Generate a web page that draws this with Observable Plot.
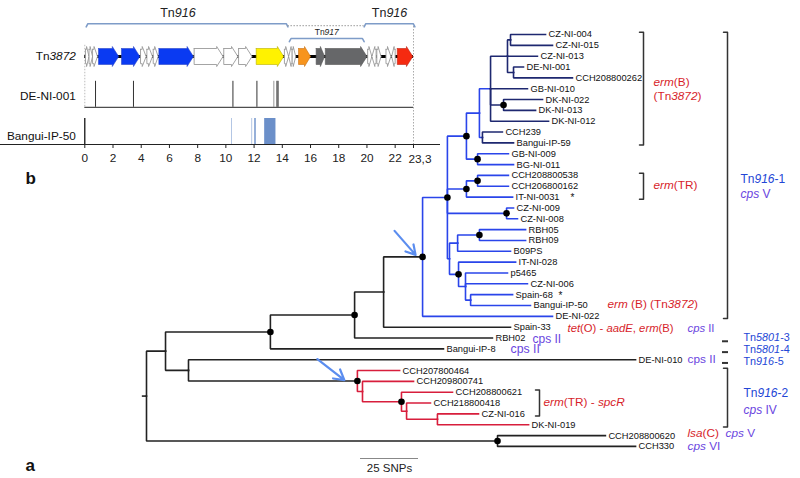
<!DOCTYPE html>
<html><head><meta charset="utf-8">
<script src="https://cdn.jsdelivr.net/npm/d3@7"></script>
<script src="https://cdn.jsdelivr.net/npm/@observablehq/plot@0.6"></script>
<style>
body{margin:0;background:#fff;}
#wrap{position:relative;width:800px;height:478px;overflow:hidden;background:#fff;font-family:"Liberation Sans",Arial,Helvetica,sans-serif;}
#wrap svg{position:absolute;left:0;top:0;}
</style></head><body><div id="wrap"></div>
<script>
// ---------------- DATA: inset (Tn3872 element, kb) ----------------
const kbTicks = [0,2,4,6,8,10,12,14,16,18,20,22,23.3];
const kbTickLabels = ["0","2","4","6","8","10","12","14","16","18","20","22","23,3"];
const insetRows = ["Tn_3872_","DE-NI-001","Bangui-IP-50"];
const geneStart = [0.05,0.3,0.55,0.97,2.6,3.95,4.4,4.85,5.25,7.75,9.85,10.9,12.15,14.15,14.45,14.7,15.15,16.4,17.05,20.05,20.35,20.7,21.35,21.75,22.15];
const geneEnd   = [0.3,0.55,0.9,2.4,3.9,4.35,4.8,5.2,7.7,9.8,10.85,11.85,14.1,14.45,14.7,14.95,16.0,17.0,20.0,20.35,20.65,21.0,21.7,22.0,23.25];
const geneDir   = [1,1,1,1,1,1,1,1,1,1,1,1,1,1,-1,1,1,1,1,1,-1,1,1,-1,1];
const geneType  = ["s","s","s","blue","blue","s","s","s","blue","w","w","w","yellow","s","s","s","orange","gray","gray","s","s","s","s","s","red"];
const deSnps = [0.76,3.45,10.5,12.2,13.4,13.62,13.7];
const banguiStart = [10.4,11.83,12.05,12.75];
const banguiEnd   = [10.47,11.9,12.15,13.55];
const tnLabels = ["Tn_916_","Tn_917_","Tn_916_"];
const tnStart = [0.1,14.5,19.8];
const tnEnd   = [14.4,19.8,23.4];
const tnLevel = [0,1,0];

// ---------------- DATA: tree (branch depth in SNPs) ----------------
const leafNames = ["CZ-NI-004","CZ-NI-015","CZ-NI-013","DE-NI-001","CCH208800262","GB-NI-010","DK-NI-022","DK-NI-013","DK-NI-012","CCH239","Bangui-IP-59","GB-NI-009","BG-NI-011","CCH208800538","CCH206800162","IT-NI-0031","CZ-NI-009","CZ-NI-008","RBH05","RBH09","B09PS","IT-NI-028","p5465","CZ-NI-006","Spain-68","Bangui-IP-50","DE-NI-022","Spain-33","RBH02","Bangui-IP-8","DE-NI-010","CCH207800464","CCH209800741","CCH208800621","CCH218800418","CZ-NI-016","DK-NI-019","CCH208800620","CCH330"];
const leafParent = ["C2","C2","C1","C3","C3","C0","D1","D1","C0","U2","U2","G1","G1","I2","I2","I1","Z1","Z1","RB","RB","L1","L2","L3","L3","L5","L5","B0","N3","N2","N1","A2","R0","R1","R3","R4","R5","R5","Bn","Bn"];
const leafDepth = [172.0,175.0,168.5,162.5,183.6,164.2,170.7,167.7,173.3,153.4,158.2,156.0,158.2,156.0,156.0,157.8,158.2,159.9,163.4,163.4,156.9,159.1,155.6,164.2,157.8,165.5,175.0,156.9,149.1,128.0,210.8,109.1,115.1,131.9,122.4,143.1,164.7,197.8,210.8];
const nodeIds    = ["root","A","Bn","N1","A2","N2","N3","B0","B1","U","UU","C0","C1","C2","C3","D1","U2","G1","I1","I2","Z1","L0","L1","RB","L2","L3","L5","R0","R1","R3","R4","R5"];
const nodeParent = [null,"root","root","A","A","N1","N2","N3","B0","B1","U","UU","C0","C1","C1","C0","UU","U","B1","I1","B1","B1","L0","L1","L0","L2","L3","A2","R0","R1","R3","R4"];
const nodeDepth  = [0,8.2,151.3,53.4,18.1,89.7,102.2,119.0,129.7,137.9,143.5,148.3,155.6,156.9,158.2,153.9,144.8,142.7,137.9,142.7,155.2,130.6,134.1,143.5,134.5,137.5,139.7,90.9,93.1,109.9,112.1,125.4];
const dotNodes = ["Bn","N1","N2","B0","B1","U","D1","G1","I1","I2","Z1","RB","L2","R0","R3"];
const starLeaves = ["IT-NI-0031","Spain-68"];
const scaleSNPs = 25;

// ---------------- DATA: annotation texts ----------------
const annoTexts = ["_erm_(B)","(Tn_3872_)","_erm_(TR)","Tn_916_-1","_cps_ V","_erm_ (B) (Tn_3872_)","_tet_(O) - _aadE_, _erm_(B)","_cps_ II","cps II","cps II","cps II","Tn_5801_-3","Tn_5801_-4","Tn_916_-5","Tn_916_-2","_cps_ IV","_erm_(TR) - _spcR_","_lsa_(C)","_cps_ V","_cps_ VI"];
const bracketFrom = ["CZ-NI-004","CCH208800538","CZ-NI-004","CCH208800621","CCH207800464"];
const bracketTo   = ["Bangui-IP-59","IT-NI-0031","DE-NI-022","CZ-NI-016","DK-NI-019"];
const dashRows = ["RBH02","Bangui-IP-8","DE-NI-010"];

// ---------------- helpers ----------------
const FONT = '"Liberation Sans", Arial, Helvetica, sans-serif';
function italicize(svg){
  svg.querySelectorAll("text").forEach(t=>{
    if (t.querySelector("tspan")) return;
    const s = t.textContent;
    if (!s.includes("_")) return;
    t.textContent = "";
    s.split("_").forEach((part,i)=>{
      if (!part) return;
      const ts = document.createElementNS("http://www.w3.org/2000/svg","tspan");
      if (i % 2) ts.setAttribute("font-style","italic");
      ts.textContent = part;
      t.appendChild(ts);
    });
  });
}
const wrap = document.getElementById("wrap");

// ================= TREE =================
const PXPERSNP = 2.32, X0 = 146, Y0 = 34, ROWH = 10.84;
const X = px => (px - X0) / PXPERSNP;   // layout helper: pixel -> SNP units
const Y = py => (py - Y0) / ROWH;       // layout helper: pixel -> row units
const N = new Map();
nodeIds.forEach((id,i)=>N.set(id,{id,parent:nodeParent[i],x:nodeDepth[i],children:[],leaf:false}));
leafNames.forEach((id,i)=>N.set(id,{id,parent:leafParent[i],x:leafDepth[i],y:i,children:[],leaf:true}));
for (const n of N.values()) if (n.parent) N.get(n.parent).children.push(n);
function setY(n){ if (n.leaf) return n.y; const ys = n.children.map(setY); n.y = (d3.min(ys)+d3.max(ys))/2; return n.y; }
setY(N.get("root"));
const BLACK="#222", BLUE="#2a45ea", NAVY="#1e2870", RED="#d81e3c";
const cladeColor = {B0:BLUE, C0:NAVY, U2:NAVY, R0:RED};
function setColor(n,c){ if (cladeColor[n.id]) c = cladeColor[n.id]; n.color = c; n.children.forEach(ch=>setColor(ch,c)); }
setColor(N.get("root"), BLACK);
const edgePts = [];
for (const n of N.values()) {
  if (!n.parent) continue;
  const p = N.get(n.parent);
  edgePts.push({id:n.id,x:p.x,y:p.y,c:p.color},{id:n.id,x:p.x,y:n.y,c:p.color},{id:n.id,x:n.x,y:n.y,c:p.color});
}
const leaves = leafNames.map(id=>N.get(id));
const dots = dotNodes.map(id=>N.get(id));
const root = N.get("root");
const B0 = N.get("B0"), R0 = N.get("R0");
const pointers = [
  {x2:B0.x-7/PXPERSNP, y2:B0.y-2/ROWH, x1:B0.x-28/PXPERSNP, y1:B0.y-26/ROWH},
  {x2:R0.x-13/PXPERSNP, y2:R0.y-1/ROWH, x1:R0.x-40/PXPERSNP, y1:R0.y-22/ROWH}
];
const RED_T="#d71e2b", PURP="#6a45e0", BLUE_T="#2346d6";
function id2star(id){ return id === "IT-NI-0031" ? 572 : 560; }
// layout of annotation texts: [x px, y px, colour, size]
const annoLayout = [
  [653,82,RED_T,11.8],[653,96,RED_T,11.8],[653,185,RED_T,11.8],[740,179,BLUE_T,12],[740,194,PURP,12],
  [607,304,RED_T,11.8],[567,327.6,RED_T,11.3],[687,327.6,PURP,11.3],[532,338.8,PURP,12],[510,349,PURP,12.3],
  [687,359,PURP,11.8],[743,337,BLUE_T,10.8],[743,349,BLUE_T,10.8],[743,361,BLUE_T,10.8],[743,393,BLUE_T,12],
  [743,410,PURP,12],[543,402,RED_T,11.8],[687,433,RED_T,11.8],[725,433,PURP,11.8],[687,446,PURP,11.8]
];
const annos = annoTexts.map((t,i)=>({t,x:X(annoLayout[i][0]),y:Y(annoLayout[i][1]),c:annoLayout[i][2],s:annoLayout[i][3]}));
const bracketX = [643,643,727,539,727];
const bracketPts = [];
bracketFrom.forEach((f,i)=>{
  const y1 = N.get(f).y - 0.2, y2 = N.get(bracketTo[i]).y + 0.2, x = X(bracketX[i]), t = 4/PXPERSNP;
  bracketPts.push({id:i,x:x-t,y:y1},{id:i,x:x,y:y1},{id:i,x:x,y:y2},{id:i,x:x-t,y:y2});
});
const dashes = dashRows.map(r=>({y:N.get(r).y+0.3}));
const scaleBar = [{x1:X(360), x2:X(360)+scaleSNPs, y:Y(458)}];

const tree = Plot.plot({
  width:800, height:478, margin:0,
  x:{domain:[0,212], range:[X0, X0+212*PXPERSNP], axis:null},
  y:{domain:[0,38], range:[Y0, Y0+38*ROWH], axis:null},
  color:{type:"identity"},
  style:{fontFamily:FONT, background:"none"},
  marks:[
    Plot.ruleY([root],{x1:-1.8,x2:0,y:"y",stroke:BLACK,strokeWidth:1.6}),
    Plot.line(edgePts,{x:"x",y:"y",z:"id",stroke:"c",strokeWidth:1.6,strokeLinejoin:"miter",strokeLinecap:"square"}),
    Plot.dot(dots,{x:"x",y:"y",r:3.3,fill:"#000",stroke:"none"}),
    Plot.text(leaves,{x:"x",y:"y",text:"id",dx:3,textAnchor:"start",fontSize:9.3,fill:"#111"}),
    Plot.text(starLeaves.map(id=>N.get(id)),{x:d=>X(id2star(d.id)),y:"y",text:()=>"*",fontSize:10,fill:"#111",dy:1}),
    Plot.arrow(pointers,{x1:"x1",y1:"y1",x2:"x2",y2:"y2",stroke:"#5b8def",strokeWidth:2.2,headLength:9}),
    Plot.line(bracketPts,{x:"x",y:"y",z:"id",stroke:"#333",strokeWidth:1.5}),
    Plot.ruleY(dashes,{x1:X(722),x2:X(728),y:"y",stroke:"#333",strokeWidth:2}),
    Plot.text(annos,{x:"x",y:"y",text:"t",fill:"c",fontSize:d=>d.s,textAnchor:"start"}),
    Plot.ruleY(scaleBar,{x1:"x1",x2:"x2",y:"y",stroke:"#888",strokeWidth:1.2}),
    Plot.text(scaleBar,{x:d=>(d.x1+d.x2)/2,y:d=>d.y+0.9,text:()=>`${scaleSNPs} SNPs`,fontSize:11.5,fill:"#222"}),
    Plot.text([{t:"a",x:X(25),y:Y(465)},{t:"b",x:X(25),y:Y(178)}],{x:"x",y:"y",text:"t",fontSize:17,fontWeight:"bold",fill:"#111",textAnchor:"start"})
  ]
});
tree.setAttribute("font-family", FONT);
italicize(tree);
wrap.appendChild(tree);

// ================= INSET =================
const HB = 0.2, HH = 0.25; // arrow half heights (row units)
const fills = {blue:"#0a3af2", yellow:"#fff200", orange:"#f7941d", gray:"#666769", red:"#f52a10", w:"#ffffff", s:"#ffffff"};
const strokes = {blue:"#2a45c8", yellow:"#b8b000", orange:"#c87010", gray:"#555", red:"#c02010", w:"#9a9a9a", s:"#9a9a9a"};
function arrowPoly(s,e,dir,type){
  const len = e - s;
  const h = type === "s" ? len*0.7 : Math.min(0.45, len*0.5);
  const hb = type === "s" ? HB*0.9 : HB, hh = HH;
  const tip = dir > 0 ? e : s, base = dir > 0 ? e - h : s + h, tail = dir > 0 ? s : e;
  return [[tail,-hb],[base,-hb],[base,-hh],[tip,0],[base,hh],[base,hb],[tail,hb],[tail,-hb]].map(([x,y])=>({x,y}));
}
const geneMarks = geneStart.map((s,i)=>Plot.line(arrowPoly(s,geneEnd[i],geneDir[i],geneType[i]),
  {x:"x",y:"y",fill:fills[geneType[i]],stroke:strokes[geneType[i]],strokeWidth:geneType[i]==="s"||geneType[i]==="w"?0.9:0.6,strokeLinejoin:"miter"}));
const kbMax = kbTicks[kbTicks.length-1];
const tnPts = [];
tnStart.forEach((s,i)=>{
  const y = tnLevel[i] ? -0.45 : -0.82, d = 0.08;
  tnPts.push({id:i,x:s,y:y+d},{id:i,x:s+0.12,y:y},{id:i,x:tnEnd[i]-0.12,y:y},{id:i,x:tnEnd[i],y:y+d});
});
const tnText = tnLabels.map((t,i)=>({t,x:i===0?6.6:(tnStart[i]+tnEnd[i])/2,y:tnLevel[i]?-0.6:-1.1,s:tnLevel[i]?8.5:12.5}));
const bangui = banguiStart.map((s,i)=>({x1:s,x2:banguiEnd[i],c:i<2?"#b3c6e4":"#6b8fc9"}));
const lastTick = kbTicks.length - 1;

const inset = Plot.plot({
  width:440, height:170, margin:0, marginBottom:26,
  x:{domain:[0,kbMax], range:[84.3,413], ticks:kbTicks, tickFormat:d=>kbTicks.indexOf(d)===lastTick?"":kbTickLabels[kbTicks.indexOf(d)], tickSize:4, line:true, label:null},
  y:{domain:[-1,2], range:[16,136], axis:null},
  style:{fontFamily:FONT, fontSize:"11.8px", background:"none", color:"#222"},
  marks:[
    Plot.ruleX([0],{y1:-0.28,y2:1.27,stroke:"#bbb",strokeDasharray:"1.5,1.5"}),
    Plot.ruleX([kbMax],{y1:-0.75,y2:2.2,stroke:"#aaa",strokeDasharray:"1.5,1.5"}),
    Plot.line(tnPts,{x:"x",y:"y",z:"id",stroke:"#7e9cc8",strokeWidth:1.6,curve:"linear"}),
    Plot.ruleY([{x1:tnEnd[0],x2:tnStart[2]}],{x1:"x1",x2:"x2",y:()=>-0.77,stroke:"#999",strokeDasharray:"1.5,1.5"}),
    Plot.text(tnText,{x:"x",y:"y",text:"t",fontSize:d=>d.s,fill:"#222"}),
    Plot.ruleY([{x1:0,x2:kbMax}],{x1:"x1",x2:"x2",y:()=>0,stroke:"#000",strokeWidth:3}),
    ...geneMarks,
    Plot.ruleX(deSnps,{x:d=>d,y1:0.62,y2:1.27,stroke:(d,i)=>i===4?"#999":"#333",strokeWidth:1}),
    Plot.ruleY([{x1:0,x2:kbMax}],{x1:"x1",x2:"x2",y:()=>1.27,stroke:"#222",strokeWidth:1}),
    Plot.rect(bangui,{x1:"x1",x2:"x2",y1:()=>1.55,y2:()=>2.2,fill:"c"}),
    Plot.ruleX([0],{y1:1.55,y2:2.2,stroke:"#000",strokeWidth:1.2}),
    Plot.text([kbTicks[lastTick]],{x:d=>d,y:()=>2.2,text:()=>kbTickLabels[lastTick],dx:-5,dy:15,textAnchor:"start",fontSize:11.8,fill:"#222"}),
    Plot.text(insetRows,{x:()=>0,y:(d,i)=>i,text:d=>d,dx:-9,textAnchor:"end",fontSize:11.8,fill:"#111"})
  ]
});
inset.setAttribute("font-family", FONT);
italicize(inset);
wrap.appendChild(inset);
</script></body></html>
